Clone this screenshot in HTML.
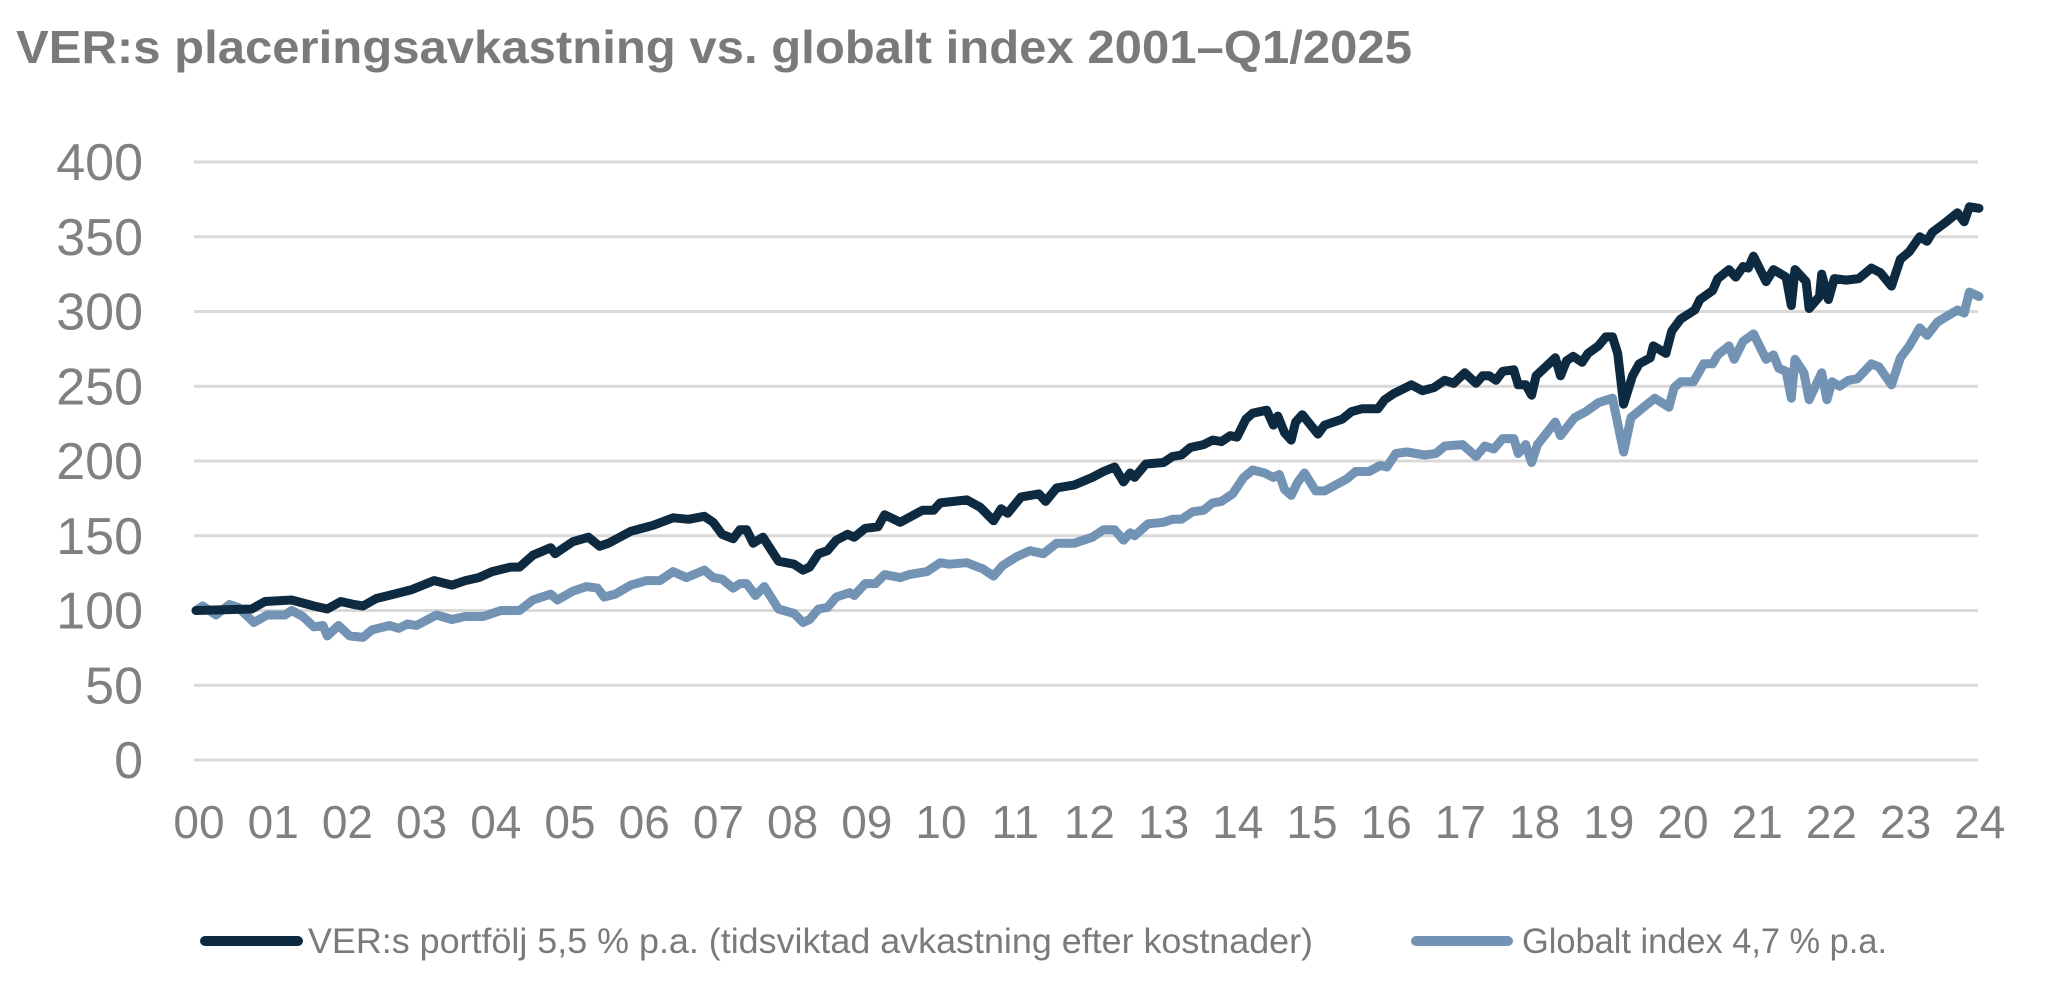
<!DOCTYPE html>
<html><head><meta charset="utf-8"><style>
html,body{margin:0;padding:0;background:#fff;}
svg{display:block;font-family:"Liberation Sans",sans-serif;}
</style></head><body>
<svg id="chart" width="2059" height="1004" viewBox="0 0 2059 1004">
<text x="16" y="63" font-size="46" font-weight="bold" fill="#7a7a7a" textLength="1396" lengthAdjust="spacingAndGlyphs">VER:s placeringsavkastning vs. globalt index 2001–Q1/2025</text>
<g id="grid"></g>
<g id="yaxis"></g>
<g id="xaxis"></g>
<g id="series"></g>
<g>
<g>
<line x1="205" y1="941" x2="298" y2="941" stroke="#0d2a40" stroke-width="10" stroke-linecap="round"/>
<text x="308" y="953" font-size="35" fill="#7a7a7a" textLength="1005" lengthAdjust="spacingAndGlyphs">VER:s portfölj 5,5 % p.a. (tidsviktad avkastning efter kostnader)</text>
</g>
<g>
<line x1="1416" y1="941" x2="1508" y2="941" stroke="#7393b5" stroke-width="10" stroke-linecap="round"/>
<text x="1522" y="953" font-size="35" fill="#7a7a7a" textLength="365" lengthAdjust="spacingAndGlyphs">Globalt index 4,7 % p.a.</text>
</g>
</g>
</svg>
<script>
const yTicks = [0,50,100,150,200,250,300,350,400];
const xTickLabels = ["00","01","02","03","04","05","06","07","08","09","10","11","12","13","14","15","16","17","18","19","20","21","22","23","24"];
const verT = [0,0.75,0.93,1.29,1.59,1.77,1.95,2.13,2.25,2.43,2.67,2.91,3.21,3.45,3.63,3.81,3.99,4.24,4.36,4.54,4.78,4.84,5.08,5.29,5.44,5.56,5.86,6.16,6.43,6.64,6.85,6.97,7.09,7.24,7.33,7.42,7.51,7.64,7.85,8.06,8.18,8.27,8.39,8.51,8.63,8.78,8.87,9.02,9.19,9.28,9.49,9.79,9.94,10.03,10.39,10.57,10.75,10.85,10.94,11.12,11.36,11.45,11.6,11.84,12.08,12.23,12.38,12.5,12.59,12.65,12.8,13.04,13.16,13.28,13.4,13.58,13.7,13.82,13.94,14.03,14.15,14.24,14.43,14.52,14.58,14.67,14.76,14.82,14.91,15.12,15.21,15.45,15.57,15.72,15.93,16.02,16.14,16.38,16.53,16.68,16.83,16.95,17.1,17.25,17.34,17.43,17.52,17.61,17.76,17.82,17.92,18.0,18.06,18.32,18.39,18.47,18.56,18.68,18.76,18.9,19.0,19.09,19.16,19.24,19.36,19.45,19.6,19.64,19.81,19.89,20.01,20.2,20.27,20.44,20.51,20.66,20.75,20.85,20.92,20.99,21.16,21.26,21.43,21.5,21.55,21.7,21.74,21.88,21.91,22.0,22.08,22.24,22.41,22.58,22.7,22.85,22.97,23.09,23.23,23.33,23.4,23.59,23.74,23.83,23.9,24.03];
const verV = [100,101,106,107,103,101,106,104,103,108,111,114,120,117,120,122,126,129,129,137,142,138,146,149,143,145,153,157,162,161,163,159,151,148,154,154,145,149,133,131,127,129,138,140,147,151,149,155,156,164,159,167,167,172,174,169,160,168,165,176,178,173,182,184,189,193,196,186,192,189,198,199,203,204,209,211,214,213,217,216,228,232,234,224,230,219,214,226,231,218,224,228,233,235,235,241,245,251,247,249,254,252,259,252,257,257,254,260,261,251,251,244,257,269,257,267,270,266,272,277,283,283,272,238,257,265,269,277,272,287,295,301,308,314,322,328,323,330,329,337,320,328,323,304,328,320,302,310,325,308,322,321,322,329,326,317,335,340,350,347,353,360,366,360,370,369];
const globT = [0,0.09,0.27,0.45,0.57,0.78,0.96,1.2,1.29,1.44,1.59,1.71,1.77,1.92,2.07,2.25,2.37,2.61,2.73,2.85,2.97,3.24,3.45,3.63,3.87,4.11,4.36,4.54,4.78,4.87,5.08,5.26,5.41,5.5,5.65,5.86,6.07,6.25,6.43,6.61,6.85,6.97,7.09,7.24,7.33,7.42,7.54,7.66,7.85,8.06,8.18,8.27,8.39,8.51,8.63,8.81,8.87,9.02,9.16,9.28,9.49,9.61,9.85,10.03,10.15,10.39,10.54,10.6,10.75,10.87,11.06,11.24,11.42,11.6,11.84,12.08,12.23,12.38,12.5,12.59,12.65,12.83,13.04,13.16,13.28,13.43,13.58,13.7,13.82,13.97,14.12,14.24,14.4,14.52,14.6,14.67,14.76,14.85,14.94,15.09,15.21,15.36,15.51,15.63,15.81,15.96,16.05,16.17,16.32,16.56,16.71,16.83,17.07,17.25,17.37,17.49,17.61,17.76,17.82,17.92,18.0,18.08,18.32,18.39,18.58,18.73,18.9,19.09,19.24,19.34,19.51,19.66,19.85,19.92,20.01,20.18,20.32,20.44,20.51,20.66,20.73,20.85,20.99,21.16,21.26,21.33,21.43,21.5,21.55,21.67,21.74,21.91,21.98,22.05,22.15,22.27,22.39,22.58,22.68,22.85,22.97,23.09,23.23,23.33,23.47,23.57,23.74,23.83,23.9,24.03];
const globV = [100,103,97,104,102,92,97,97,100,96,89,90,83,90,83,82,87,90,88,91,90,97,94,96,96,100,100,107,111,107,113,116,115,109,111,117,120,120,126,122,127,122,121,115,118,118,110,116,101,98,92,94,101,102,109,112,110,118,118,124,122,124,126,132,131,132,129,128,123,130,136,140,138,145,145,149,154,154,147,152,150,158,159,161,161,166,167,172,173,178,189,194,192,189,191,181,177,186,192,180,180,184,188,193,193,197,196,205,206,204,205,210,211,203,210,208,215,215,205,211,199,211,226,217,229,233,239,242,206,229,236,242,236,249,253,253,265,265,271,277,268,280,285,268,271,262,260,242,268,259,241,259,241,253,250,254,255,265,263,251,269,277,289,284,293,296,301,299,313,310];

const X0 = 196, XSTEP = 74.2, Y0 = 760, YPX = 1.495;
function xs(t){ return X0 + t*XSTEP; }
function ys(v){ return Y0 - v*YPX; }
const NS = "http://www.w3.org/2000/svg";
const grid = document.getElementById('grid'), yax = document.getElementById('yaxis'), xax = document.getElementById('xaxis'), ser = document.getElementById('series');

yTicks.forEach(v => {
  const l = document.createElementNS(NS,'line');
  
  
  l.setAttribute('x1', 194); l.setAttribute('x2', 1978);
  l.setAttribute('y1', ys(v)); l.setAttribute('y2', ys(v));
  l.setAttribute('stroke', '#d9d9d9'); l.setAttribute('stroke-width', 3);
  grid.appendChild(l);
  const t = document.createElementNS(NS,'text');
  
  
  t.setAttribute('x', 143); t.setAttribute('y', ys(v) + 18);
  t.setAttribute('text-anchor', 'end'); t.setAttribute('font-size', 52); t.setAttribute('fill', '#808080');
  t.textContent = v;
  yax.appendChild(t);
});
xTickLabels.forEach((s,i) => {
  const t = document.createElementNS(NS,'text');
  
  
  t.setAttribute('x', 199 + i*XSTEP); t.setAttribute('y', 838);
  t.setAttribute('text-anchor', 'middle'); t.setAttribute('font-size', 46); t.setAttribute('fill', '#808080');
  t.textContent = s;
  xax.appendChild(t);
});
function drawLine(T, V, color, name){
  const p = document.createElementNS(NS,'polyline');
  
  
  p.setAttribute('points', T.map((t,i) => xs(t).toFixed(1) + ',' + ys(V[i]).toFixed(1)).join(' '));
  p.setAttribute('fill', 'none'); p.setAttribute('stroke', color);
  p.setAttribute('stroke-width', 9); p.setAttribute('stroke-linejoin', 'round'); p.setAttribute('stroke-linecap', 'round');
  ser.appendChild(p);
}
drawLine(globT, globV, '#7393b5', 'global-index-line');
drawLine(verT, verV, '#0d2a40', 'ver-portfolio-line');
</script>
</body></html>
